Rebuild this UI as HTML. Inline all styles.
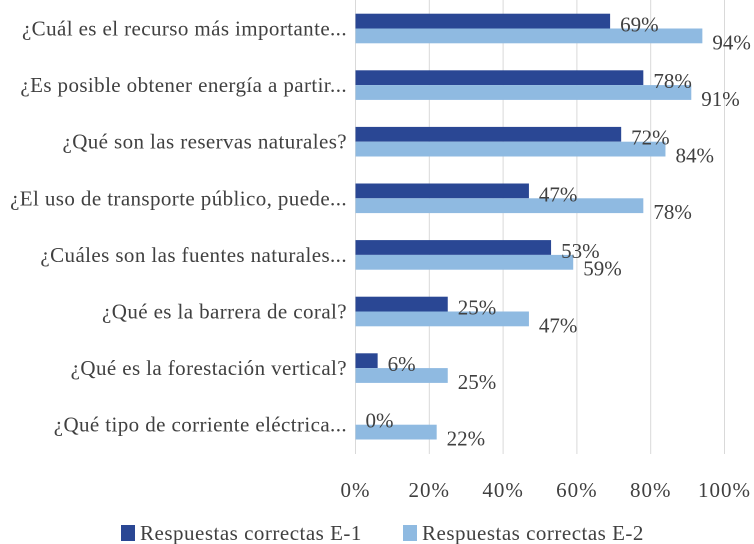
<!DOCTYPE html>
<html><head><meta charset="utf-8"><style>
body{margin:0;background:#fff;}
svg{display:block;font-family:"Liberation Serif",serif;}
</style></head><body>
<svg id="chart" width="754" height="544"></svg>
<script>
const categories=["¿Cuál es el recurso más importante...","¿Es posible obtener energía a partir...","¿Qué son las reservas naturales?","¿El uso de transporte público, puede...","¿Cuáles son las fuentes naturales...","¿Qué es la barrera de coral?","¿Qué es la forestación vertical?","¿Qué tipo de corriente eléctrica..."];
const seriesE1=[69,78,72,47,53,25,6,0];
const seriesE2=[94,91,84,78,59,47,25,22];
const ticks=[0,20,40,60,80,100];
const tickLabels=["0%","20%","40%","60%","80%","100%"];
const seriesNames=["Respuestas correctas E-1","Respuestas correctas E-2"];
const NS="http://www.w3.org/2000/svg";
const svg=document.getElementById("chart");
const x0=355.5,x1=724.5,top0=13.7,pitch=56.6,bh=14.8;
function xs(v){return x0+(x1-x0)*v/100;}
function ys(i){return top0+pitch*i;}
function mk(t,a,p){const e=document.createElementNS(NS,t);for(const k in a)e.setAttribute(k,a[k]);(p||svg).appendChild(e);return e;}
ticks.forEach((t,i)=>{
 const g=mk("line",{x1:xs(t),x2:xs(t),y1:0,y2:454,stroke:"#d9d9d9","stroke-width":1});
 
 
 const l=mk("text",{x:xs(t),y:497,"text-anchor":"middle","font-size":21,"letter-spacing":1,fill:"#404040"});
 l.textContent=tickLabels[i];
 
 
});
categories.forEach((c,i)=>{
 const y=ys(i);
 const lab=mk("text",{x:347,y:y+bh+7,"text-anchor":"end","font-size":21,"letter-spacing":0.4,fill:"#404040"});
 lab.textContent=c;
 
 
 const b1=mk("rect",{x:x0,y:y,width:xs(seriesE1[i])-x0,height:bh,fill:"#2a4794"});
 
 
 const b2=mk("rect",{x:x0,y:y+bh,width:xs(seriesE2[i])-x0,height:bh,fill:"#8fbae1"});
 
 
 const v1=mk("text",{x:xs(seriesE1[i])+10,y:y+bh+3,"font-size":21,fill:"#404040"});
 v1.textContent=seriesE1[i]+"%";
 
 
 const v2=mk("text",{x:xs(seriesE2[i])+10,y:y+2*bh+6,"font-size":21,fill:"#404040"});
 v2.textContent=seriesE2[i]+"%";
 
 
});
const lx=[121,403],cols=["#2a4794","#8fbae1"];
seriesNames.forEach((n,i)=>{
 const s=mk("rect",{x:lx[i],y:525,width:14,height:16,fill:cols[i]});
 
 
 const t=mk("text",{x:lx[i]+19,y:540,"font-size":21,"letter-spacing":0.5,fill:"#404040"});
 t.textContent=n;
 
 
});
</script>
</body></html>
